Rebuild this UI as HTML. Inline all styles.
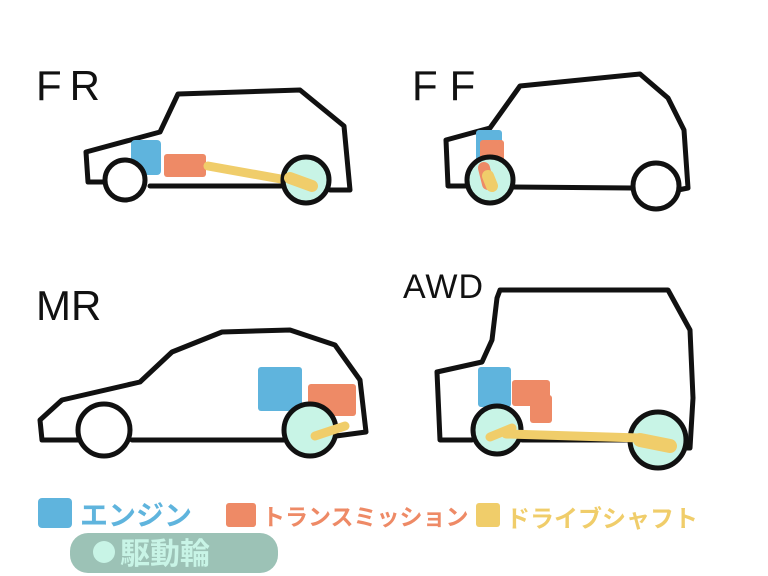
<!DOCTYPE html>
<html><head><meta charset="utf-8"><style>
html,body{margin:0;padding:0;background:#fff;}
svg{display:block}
</style></head><body>
<svg width="768" height="576" viewBox="0 0 768 576" xmlns="http://www.w3.org/2000/svg">
<g font-family="Liberation Sans, sans-serif" fill="#111" font-weight="300">
<text x="36" y="100" font-size="42" letter-spacing="8">FR</text>
<text x="412" y="100" font-size="42" letter-spacing="12">FF</text>
<text x="36" y="320" font-size="42">MR</text>
<text x="403" y="298" font-size="34" letter-spacing="1">AWD</text>
</g>
<g fill="none" stroke="#111" stroke-width="5" stroke-linecap="round" stroke-linejoin="round">
<path d="M106,182 L88,182 L86,152 L160,132 L178,94 L300,90 L344,126 L350,190 L330,190"/>
<path d="M150,186 L282,186"/>
<path d="M468,186 L448,186 L446,140 L490,128 L520,86 L640,74 L668,98 L684,130 L688,188 L678,190"/>
<path d="M513,187 L632,188"/>
<path d="M80,440 L42,440 L40,420 L62,400 L140,382 L172,352 L222,332 L290,330 L335,345 L360,380 L366,432 L336,436"/>
<path d="M132,440 L284,440"/>
<path d="M472,440 L440,440 L437,372 L482,362 L492,340 L497,298 L500,290 L668,290 L690,330 L693,398 L690,448 L686,448"/>
<path d="M522,440 L630,440"/>
</g>
<g>
<rect x="131" y="140" width="30" height="35" rx="4" fill="#5fb4dd"/>
<rect x="164" y="154" width="42" height="23" rx="3" fill="#ee8a66"/>
<path d="M208,166 L292,181" stroke="#f0cd6a" stroke-width="9" stroke-linecap="round"/>
<rect x="476" y="130" width="26" height="32" rx="3" fill="#5fb4dd"/>
<rect x="480" y="140" width="24" height="28" rx="3" fill="#ee8a66"/>
<rect x="258" y="367" width="44" height="44" rx="3" fill="#5fb4dd"/>
<rect x="308" y="384" width="48" height="32" rx="3" fill="#ee8a66"/>
<rect x="478" y="367" width="33" height="40" rx="3" fill="#5fb4dd"/>
<rect x="512" y="380" width="38" height="26" rx="3" fill="#ee8a66"/>
<rect x="530" y="395" width="22" height="28" rx="3" fill="#ee8a66"/>
</g>
<g stroke="#111" stroke-width="5">
<circle cx="125" cy="180" r="20" fill="#fff"/>
<circle cx="306" cy="180" r="23" fill="#c8f4e6"/>
<circle cx="490" cy="180" r="23" fill="#c8f4e6"/>
<circle cx="656" cy="186" r="23" fill="#fff"/>
<circle cx="104" cy="430" r="26" fill="#fff"/>
<circle cx="310" cy="430" r="26" fill="#c8f4e6"/>
<circle cx="497" cy="430" r="24" fill="#c8f4e6"/>
<circle cx="658" cy="440" r="28" fill="#c8f4e6"/>
</g>
<g stroke-linecap="round">
<path d="M290,178 L312,186" stroke="#f0cd6a" stroke-width="12"/>
<path d="M484,168 L488,184" stroke="#ee8a66" stroke-width="12"/>
<path d="M488,176 L492,186" stroke="#f0cd6a" stroke-width="12"/>
<path d="M315,436 L345,426" stroke="#f0cd6a" stroke-width="9"/>
<path d="M506,434 L640,438" stroke="#f0cd6a" stroke-width="9"/>
<path d="M490,437 L512,428" stroke="#f0cd6a" stroke-width="9"/>
<path d="M640,440 L670,446" stroke="#f0cd6a" stroke-width="14"/>
</g>
<rect x="38" y="498" width="34" height="30" rx="4" fill="#5fb4dd"/>
<text x="80" y="525" font-family="Liberation Sans, Noto Sans CJK JP, sans-serif" font-size="28" font-weight="bold" fill="#5fb4dd">エンジン</text>
<rect x="226" y="503" width="30" height="24" rx="3" fill="#ee8a66"/>
<text x="262" y="525" font-family="Liberation Sans, Noto Sans CJK JP, sans-serif" font-size="23" font-weight="bold" fill="#ee8a66">トランスミッション</text>
<rect x="476" y="503" width="24" height="24" rx="3" fill="#f0cd6a"/>
<text x="506" y="527" font-family="Liberation Sans, Noto Sans CJK JP, sans-serif" font-size="24" font-weight="bold" fill="#f0cd6a">ドライブシャフト</text>
<rect x="70" y="533" width="208" height="40" rx="18" fill="#9cc2b6"/>
<circle cx="104" cy="552" r="11" fill="#c8f4e6"/>
<text x="120" y="564" font-family="Liberation Sans, Noto Sans CJK JP, sans-serif" font-size="30" font-weight="bold" fill="#c8f4e6">駆動輪</text>
</svg>
</body></html>
